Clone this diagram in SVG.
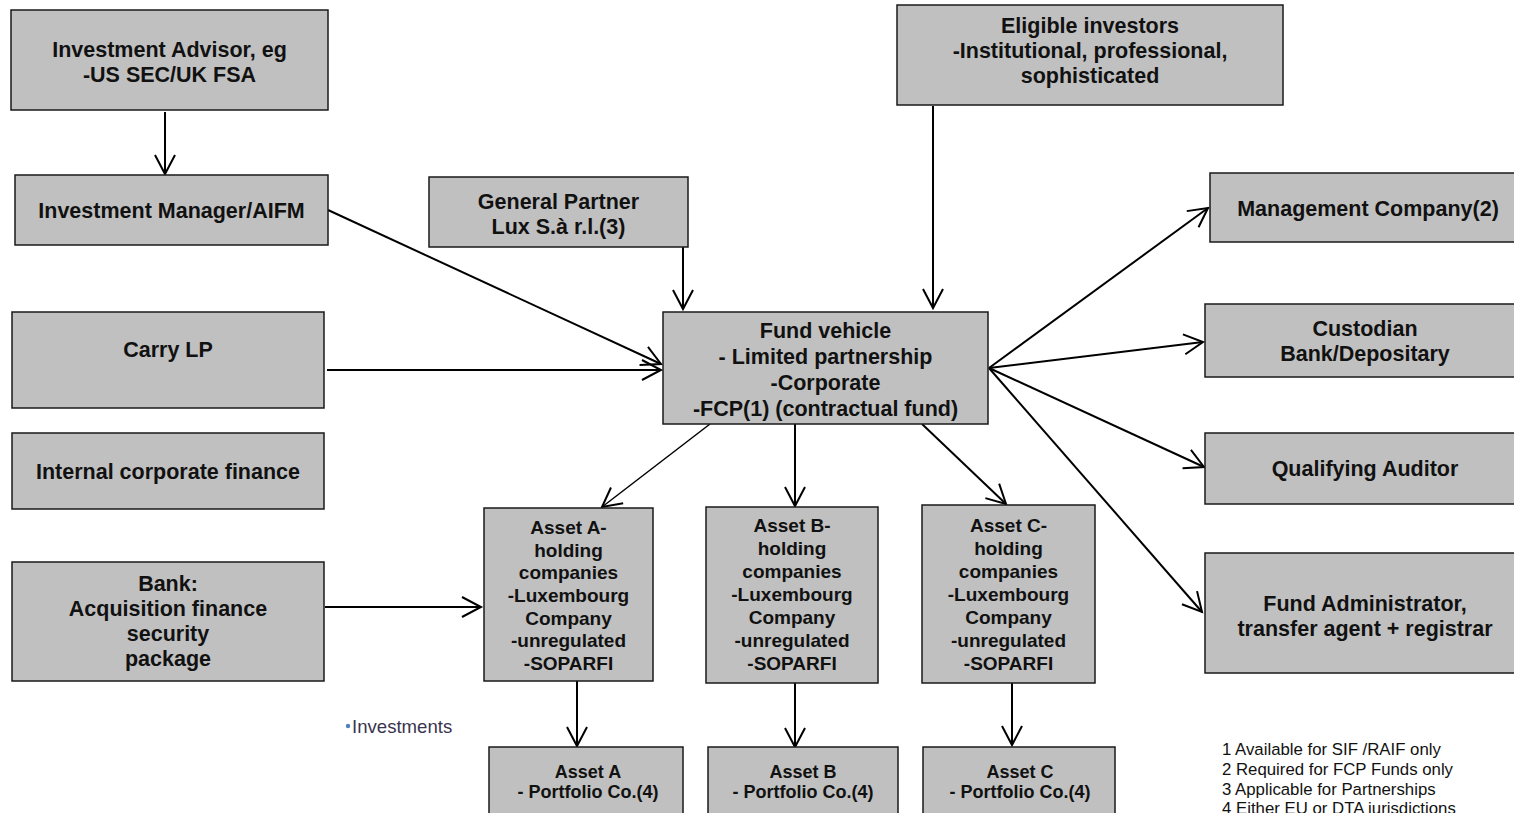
<svg xmlns="http://www.w3.org/2000/svg" width="1514" height="813" viewBox="0 0 1514 813">
<style>
.box{fill:#c0c0c0;stroke:#1a1a1a;stroke-width:1.5}
.t{font-family:"Liberation Sans",Arial,sans-serif;font-weight:bold;font-size:21.5px;fill:#111;text-anchor:middle}
.s{font-family:"Liberation Sans",Arial,sans-serif;font-weight:bold;font-size:19px;fill:#111;text-anchor:middle}
.p{font-family:"Liberation Sans",Arial,sans-serif;font-weight:bold;font-size:18px;fill:#111;text-anchor:middle}
.fn{font-family:"Liberation Sans",Arial,sans-serif;font-size:16.8px;fill:#111}
.c{fill:none;stroke:#000;stroke-width:2;marker-end:url(#arr)}
.c2{fill:none;stroke:#000;stroke-width:1.5;marker-end:url(#arr)}
</style>
<defs>
<marker id="arr" viewBox="0 0 20 22" refX="19" refY="11" markerWidth="20" markerHeight="22" markerUnits="userSpaceOnUse" orient="auto" overflow="visible">
<path d="M0,1 L19,11 L0,21" fill="none" stroke="#000" stroke-width="2"/>
</marker>
</defs>
<rect width="1514" height="813" fill="#fff"/>

<g id="connectors">
<line class="c" x1="165" y1="112" x2="165" y2="174"/>
<line class="c" x1="328" y1="210" x2="661" y2="364"/>
<line class="c" x1="327" y1="370" x2="661" y2="370"/>
<line class="c" x1="683" y1="247" x2="683" y2="309"/>
<line class="c" x1="933" y1="106" x2="933" y2="308"/>
<line class="c" x1="989" y1="368" x2="1208" y2="208"/>
<line class="c" x1="989" y1="368" x2="1203" y2="342"/>
<line class="c" x1="989" y1="368" x2="1204" y2="467"/>
<line class="c" x1="989" y1="368" x2="1202" y2="612"/>
<line class="c2" x1="710" y1="424" x2="602" y2="507"/>
<line class="c" x1="795" y1="424" x2="795" y2="506"/>
<line class="c" x1="922" y1="424" x2="1006" y2="504"/>
<line class="c" x1="325" y1="607" x2="481" y2="607"/>
<line class="c" x1="577" y1="681" x2="577" y2="746"/>
<line class="c" x1="795" y1="683" x2="795" y2="747"/>
<line class="c" x1="1012" y1="683" x2="1012" y2="745"/>
</g>

<g id="investment-advisor">
<rect class="box" x="11" y="10" width="317" height="100"/>
<text class="t" x="169.5" y="57">Investment Advisor, eg</text>
<text class="t" x="169.5" y="82">-US SEC/UK FSA</text>
</g>
<g id="investment-manager">
<rect class="box" x="15" y="175" width="313" height="70"/>
<text class="t" x="171.5" y="218">Investment Manager/AIFM</text>
</g>
<g id="carry-lp">
<rect class="box" x="12" y="312" width="312" height="96"/>
<text class="t" x="168" y="357">Carry LP</text>
</g>
<g id="internal-corporate-finance">
<rect class="box" x="12" y="433" width="312" height="76"/>
<text class="t" x="168" y="479">Internal corporate finance</text>
</g>
<g id="bank">
<rect class="box" x="12" y="562" width="312" height="119"/>
<text class="t" x="168" y="591">Bank:</text>
<text class="t" x="168" y="616">Acquisition finance</text>
<text class="t" x="168" y="641">security</text>
<text class="t" x="168" y="666">package</text>
</g>
<g id="general-partner">
<rect class="box" x="429" y="177" width="259" height="70"/>
<text class="t" x="558.5" y="209">General Partner</text>
<text class="t" x="558.5" y="234">Lux S.à r.l.(3)</text>
</g>
<g id="eligible-investors">
<rect class="box" x="897" y="5" width="386" height="100"/>
<text class="t" x="1090" y="33">Eligible investors</text>
<text class="t" x="1090" y="58">-Institutional, professional,</text>
<text class="t" x="1090" y="83">sophisticated</text>
</g>
<g id="fund-vehicle">
<rect class="box" x="663" y="312" width="325" height="112"/>
<text class="t" x="825.5" y="338">Fund vehicle</text>
<text class="t" x="825.5" y="364">- Limited partnership</text>
<text class="t" x="825.5" y="390">-Corporate</text>
<text class="t" x="825.5" y="416">-FCP(1) (contractual fund)</text>
</g>
<g id="management-company">
<rect class="box" x="1210" y="173" width="316" height="69"/>
<text class="t" x="1368" y="216">Management Company(2)</text>
</g>
<g id="custodian">
<rect class="box" x="1205" y="304" width="320" height="73"/>
<text class="t" x="1365" y="336">Custodian</text>
<text class="t" x="1365" y="361">Bank/Depositary</text>
</g>
<g id="qualifying-auditor">
<rect class="box" x="1205" y="433" width="320" height="71"/>
<text class="t" x="1365" y="476">Qualifying Auditor</text>
</g>
<g id="fund-administrator">
<rect class="box" x="1205" y="553" width="320" height="120"/>
<text class="t" x="1365" y="611">Fund Administrator,</text>
<text class="t" x="1365" y="636">transfer agent + registrar</text>
</g>

<g id="asset-a-holding">
<rect class="box" x="484" y="508" width="169" height="173"/>
<text class="s" x="568.5" y="534">Asset  A-</text>
<text class="s" x="568.5" y="556.7">holding</text>
<text class="s" x="568.5" y="579.3">companies</text>
<text class="s" x="568.5" y="602">-Luxembourg</text>
<text class="s" x="568.5" y="624.7">Company</text>
<text class="s" x="568.5" y="647.3">-unregulated</text>
<text class="s" x="568.5" y="670">-SOPARFI</text>
</g>
<g id="asset-b-holding">
<rect class="box" x="706" y="507" width="172" height="176"/>
<text class="s" x="792" y="532">Asset  B-</text>
<text class="s" x="792" y="555">holding</text>
<text class="s" x="792" y="578">companies</text>
<text class="s" x="792" y="601">-Luxembourg</text>
<text class="s" x="792" y="624">Company</text>
<text class="s" x="792" y="647">-unregulated</text>
<text class="s" x="792" y="670">-SOPARFI</text>
</g>
<g id="asset-c-holding">
<rect class="box" x="922" y="505" width="173" height="178"/>
<text class="s" x="1008.5" y="532">Asset  C-</text>
<text class="s" x="1008.5" y="555">holding</text>
<text class="s" x="1008.5" y="578">companies</text>
<text class="s" x="1008.5" y="601">-Luxembourg</text>
<text class="s" x="1008.5" y="624">Company</text>
<text class="s" x="1008.5" y="647">-unregulated</text>
<text class="s" x="1008.5" y="670">-SOPARFI</text>
</g>

<g id="asset-a-portfolio">
<rect class="box" x="489" y="747" width="194" height="80"/>
<text class="p" x="588" y="778">Asset  A</text>
<text class="p" x="588" y="798">- Portfolio Co.(4)</text>
</g>
<g id="asset-b-portfolio">
<rect class="box" x="708" y="747" width="190" height="80"/>
<text class="p" x="803" y="778">Asset  B</text>
<text class="p" x="803" y="798">- Portfolio Co.(4)</text>
</g>
<g id="asset-c-portfolio">
<rect class="box" x="923" y="747" width="192" height="80"/>
<text class="p" x="1020" y="778">Asset  C</text>
<text class="p" x="1020" y="798">- Portfolio Co.(4)</text>
</g>

<g id="investments-label">
<circle cx="348" cy="726" r="2.2" fill="#4f81bd"/>
<text x="352" y="733" font-family="'Liberation Sans',Arial,sans-serif" font-size="18.6" fill="#3a3450">Investments</text>
</g>

<g id="footnotes">
<text class="fn" x="1222" y="755">1 Available for SIF /RAIF only</text>
<text class="fn" x="1222" y="775">2 Required for FCP Funds only</text>
<text class="fn" x="1222" y="795">3 Applicable for Partnerships</text>
<text class="fn" x="1222" y="814">4 Either EU or DTA jurisdictions</text>
</g>
</svg>
